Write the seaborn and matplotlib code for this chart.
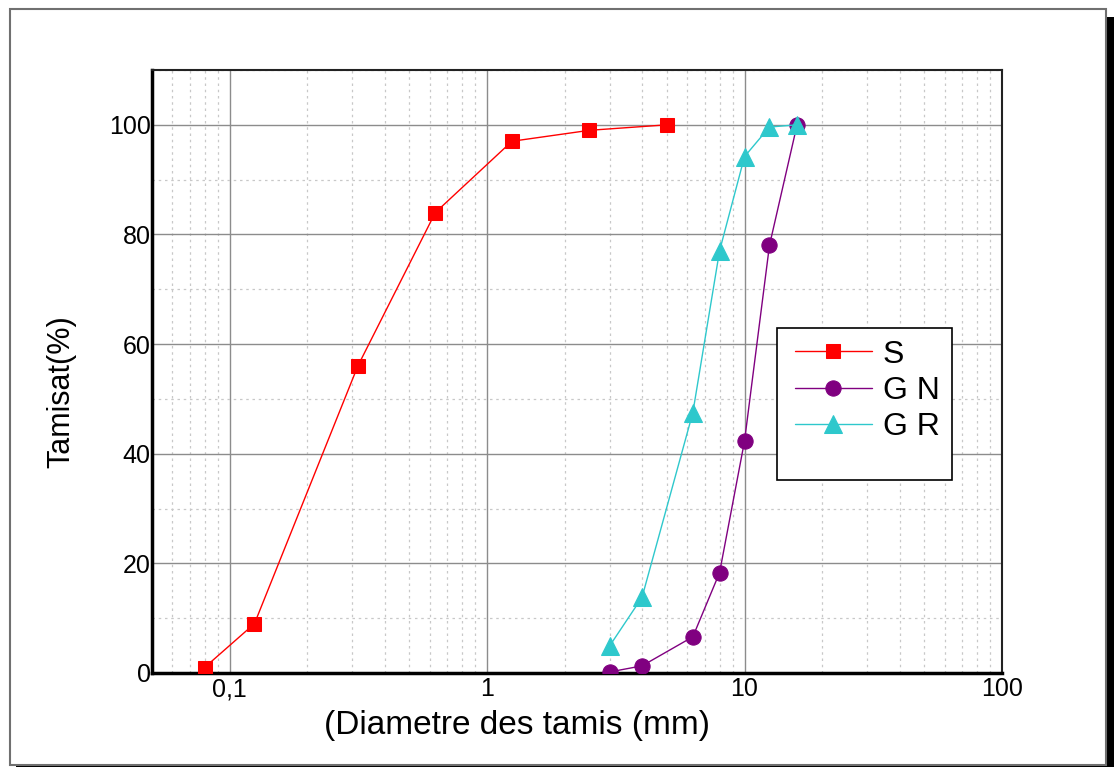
import matplotlib
matplotlib.use("Agg")
import matplotlib.pyplot as plt
from matplotlib.patches import Rectangle
import matplotlib.ticker as mticker
import pandas as pd
import seaborn as sns

# sieve sizes (mm) and passing (%)
s_diam = [0.08, 0.125, 0.315, 0.63, 1.25, 2.5, 5]
s_pass = [1, 9, 56, 84, 97, 99, 100]

gn_diam = [3.0, 4, 6.3, 8, 10, 12.5, 16]
gn_pass = [0.2, 1.3, 6.6, 18.3, 42.3, 78, 100]

gr_diam = [3.0, 4, 6.3, 8, 10, 12.5, 16]
gr_pass = [5, 13.8, 47.5, 77, 94.2, 99.6, 100]

labels = ["S", "G N", "G R"]
colors = ["#ff0000", "#800080", "#2ec8cc"]
markers = ["s", "o", "^"]
msizes = [10, 11, 13]

xticks = [0.1, 1, 10, 100]
xticklabels = ["0,1", "1", "10", "100"]
yticks = [0, 20, 40, 60, 80, 100]

df = pd.concat([
    pd.DataFrame({"d": s_diam, "p": s_pass, "serie": labels[0]}),
    pd.DataFrame({"d": gn_diam, "p": gn_pass, "serie": labels[1]}),
    pd.DataFrame({"d": gr_diam, "p": gr_pass, "serie": labels[2]}),
])

sns.set_style("white")
plt.rcParams["font.family"] = ["Liberation Sans", "DejaVu Sans"]
plt.rcParams["text.color"] = "black"
plt.rcParams["axes.labelcolor"] = "black"
plt.rcParams["xtick.color"] = "black"
plt.rcParams["ytick.color"] = "black"

fig = plt.figure(figsize=(11.14, 7.67), dpi=100)

# outer frame with shadow
fig.patches.append(Rectangle((16/1114, 0), 1098/1114, 750/767, transform=fig.transFigure,
                             facecolor="black", edgecolor="none", zorder=0))
fig.patches.append(Rectangle((10/1114, 2/767), 1096/1114, 756/767, transform=fig.transFigure,
                             facecolor="white", edgecolor="#707070", lw=1.5, zorder=1))

ax = fig.add_axes([152/1114, 94/767, 850/1114, 603/767])
ax.set_zorder(2)

for lab, c, m, ms in zip(labels, colors, markers, msizes):
    sub = df[df["serie"] == lab]
    sns.lineplot(data=sub, x="d", y="p", ax=ax, color=c, marker=m, markersize=ms,
                 markeredgecolor=c, linewidth=1, label=lab, sort=False, zorder=3)

ax.set_xscale("log")
ax.set_xlim(0.05, 100)
ax.set_ylim(0, 110)
ax.set_xticks(xticks, labels=xticklabels)
ax.set_yticks(yticks)
ax.xaxis.set_minor_locator(mticker.LogLocator(base=10, subs=range(2, 10)))
ax.xaxis.set_minor_formatter(mticker.NullFormatter())
ax.yaxis.set_minor_locator(mticker.MultipleLocator(10))

ax.grid(which="major", color="#8c8c8c", linestyle="-", linewidth=1)
ax.grid(which="minor", color="#c8c8c8", linestyle=(0, (2, 3)), linewidth=0.9)
ax.tick_params(which="both", length=0, labelsize=18, labelcolor="black")
ax.tick_params(axis="x", pad=3)
ax.tick_params(axis="y", pad=1)

for side in ["left", "bottom"]:
    ax.spines[side].set_linewidth(2.5)
    ax.spines[side].set_color("black")
for side in ["top", "right"]:
    ax.spines[side].set_linewidth(1.5)
    ax.spines[side].set_color("#222222")

ax.set_xlabel("(Diametre des tamis (mm)", fontsize=24, color="black")
ax.set_ylabel("Tamisat(%)", fontsize=22, color="black")
ax.xaxis.set_label_coords(0.43, -0.062)
ax.yaxis.set_label_coords(-0.089, 0.466)

# legend box is taller than its entries in the original, so draw it separately
ax.add_patch(Rectangle((0.7353, 0.320), 0.2059, 0.252, transform=ax.transAxes,
                       facecolor="white", edgecolor="black", lw=1.2, zorder=4))
leg = ax.legend(loc="upper left", bbox_to_anchor=(0.7565, 0.553), fontsize=23,
                frameon=False, handlelength=2.4, handletextpad=0.35,
                labelspacing=0.2, borderpad=0, borderaxespad=0)
leg.set_zorder(5)
for t in leg.get_texts():
    t.set_color("black")

fig.savefig("out.png", dpi=100)
